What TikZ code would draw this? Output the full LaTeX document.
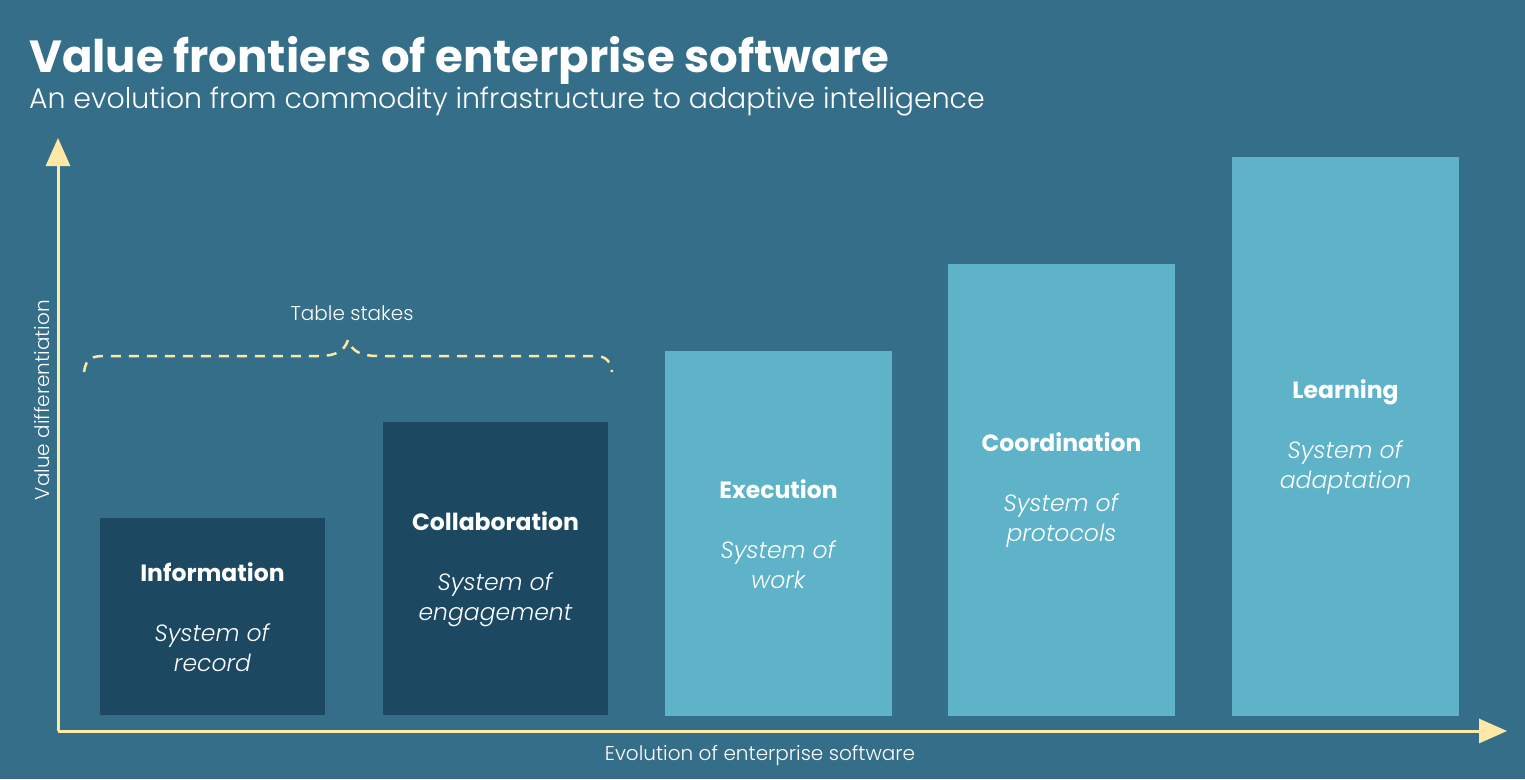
\documentclass[tikz,border=0pt]{standalone}
\usepackage{fontspec}
\setmainfont{Poppins}
\newfontfamily\plight{Poppins Light}
\usetikzlibrary{arrows.meta}
\definecolor{bg}{HTML}{356E88}
\definecolor{darkbox}{HTML}{1D4862}
\definecolor{lightbox}{HTML}{5FB3C9}
\definecolor{axis}{HTML}{FDE8A6}
\tikzset{
  boxtext/.style={text=white, align=center, font=\fontsize{23.5}{30}\selectfont},
  axisline/.style={draw=axis, line width=3pt, -{Triangle[length=28pt,width=24pt]}},
  axislabel/.style={text=white, font=\plight\fontsize{20}{24}\selectfont},
}
\newcommand{\lightit}[1]{\textit{\plight #1}}
\newcommand{\boxlabel}[3]{\textbf{#1}\\[30pt]\lightit{#2}\\\lightit{#3}}
\begin{document}
\begin{tikzpicture}[x=1pt,y=-1pt]
\useasboundingbox (0,0) rectangle (1525,779);
\fill[bg] (0,0) rectangle (1525,779);
% title
\node[anchor=base west, text=white, inner sep=0pt, font=\bfseries\fontsize{45}{52}\selectfont] (title) at (29,72) {Value frontiers of enterprise software};
\node[anchor=base west, text=white, inner sep=0pt, font=\plight\fontsize{28.4}{32}\selectfont] (subtitle) at (29,108) {An evolution from commodity infrastructure to adaptive intelligence};
% bars
\fill[darkbox] (100,518) rectangle (325,715);
\fill[darkbox] (383,422) rectangle (608,715);
\fill[lightbox] (665,351) rectangle (892,716);
\fill[lightbox] (948,264) rectangle (1175,716);
\fill[lightbox] (1232,157) rectangle (1459,716);
\node[boxtext] (info) at (212.5,617) {\boxlabel{Information}{System of}{record}};
\node[boxtext] (collab) at (495.5,569) {\boxlabel{Collaboration}{System of}{engagement}};
\node[boxtext] (exec) at (778.5,534) {\boxlabel{Execution}{System of}{work}};
\node[boxtext] (coord) at (1061.5,490) {\boxlabel{Coordination}{System of}{protocols}};
\node[boxtext] (learn) at (1345.5,437) {\boxlabel{Learning}{System of}{adaptation}};
% axes
\coordinate (origin) at (58,731);
\coordinate (ytip) at (58,138);
\coordinate (xtip) at (1507,731);
\draw[axisline] (origin) -- (ytip);
\draw[axisline] (origin) -- (xtip);
\node[axislabel, rotate=90] (ylab) at (42,400) {Value differentiation};
\node[axislabel] (xlab) at (760,755) {Evolution of enterprise software};
% brace
\draw[axis, line width=2.5pt, dash pattern=on 10pt off 8pt, line cap=butt]
  (84,372) .. controls (86,358) and (92,356) .. (105,356)
  -- (318,356) .. controls (335,356) and (344,352) .. (348,340)
  .. controls (352,352) and (362,356) .. (378,356)
  -- (596,356) .. controls (606,356) and (611,362) .. (612,372);
\node[axislabel] (stakes) at (352,313) {Table stakes};
\end{tikzpicture}
\end{document}
